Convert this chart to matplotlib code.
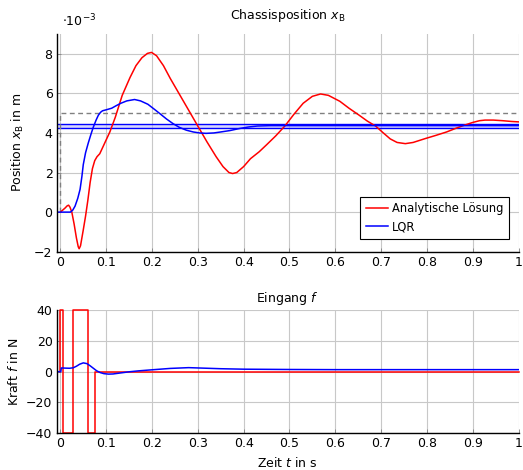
import matplotlib
matplotlib.use("Agg")
import matplotlib.pyplot as plt

plt.rcParams["font.family"] = ["DejaVu Sans"]
plt.rcParams["mathtext.fontset"] = "dejavusans"
plt.rcParams["font.size"] = 9

# Chassis position (units of 1e-3 m)
t_ana = [0.0, 0.005, 0.01, 0.015, 0.018, 0.021, 0.025, 0.03, 0.035, 0.039, 0.041,
         0.044, 0.05, 0.055, 0.06, 0.065, 0.07, 0.075, 0.08, 0.086, 0.095, 0.108,
         0.12, 0.135, 0.152, 0.165, 0.178, 0.19, 0.199, 0.21, 0.225, 0.24, 0.26,
         0.28, 0.3, 0.32, 0.34, 0.355, 0.368, 0.376, 0.385, 0.4, 0.415, 0.434,
         0.45, 0.47, 0.49, 0.51, 0.53, 0.55, 0.568, 0.585, 0.61, 0.63, 0.652,
         0.67, 0.688, 0.705, 0.72, 0.735, 0.753, 0.77, 0.797, 0.82, 0.843, 0.865,
         0.883, 0.9, 0.915, 0.927, 0.945, 0.965, 0.985, 1.0]
x_ana = [0.0, 0.1, 0.2, 0.32, 0.35, 0.25, 0.0, -0.6, -1.3, -1.75, -1.85,
         -1.7, -0.9, -0.2, 0.6, 1.5, 2.2, 2.6, 2.8, 2.95, 3.4, 4.05,
         4.8, 5.9, 6.8, 7.4, 7.8, 8.02, 8.07, 7.9, 7.4, 6.75, 5.95,
         5.15, 4.35, 3.55, 2.8, 2.3, 2.0, 1.95, 2.0, 2.3, 2.7, 3.05,
         3.4, 3.85, 4.35, 4.95, 5.5, 5.85, 5.97, 5.9, 5.6, 5.25, 4.9,
         4.6, 4.35, 4.0, 3.7, 3.52, 3.46, 3.52, 3.72, 3.88, 4.05, 4.25,
         4.4, 4.53, 4.62, 4.65, 4.65, 4.62, 4.58, 4.56]

t_lqr = [-0.008, 0.0, 0.01, 0.022, 0.027, 0.032, 0.038, 0.043, 0.047, 0.05,
         0.055, 0.061, 0.067, 0.072, 0.078, 0.083, 0.088, 0.092, 0.1, 0.112,
         0.122, 0.132, 0.145, 0.162, 0.175, 0.191, 0.205, 0.217, 0.232, 0.246,
         0.26, 0.275, 0.29, 0.304, 0.318, 0.335, 0.35, 0.37, 0.39, 0.41, 0.43,
         0.46, 0.5, 0.6, 0.7, 0.8, 0.9, 1.0]
x_lqr = [0.0, 0.0, 0.0, 0.0, 0.1, 0.3, 0.7, 1.15, 1.8, 2.4,
         3.0, 3.5, 3.95, 4.3, 4.65, 4.9, 5.05, 5.12, 5.17, 5.25,
         5.38, 5.5, 5.62, 5.69, 5.62, 5.45, 5.2, 4.98, 4.7, 4.47,
         4.28, 4.14, 4.05, 4.0, 3.98, 4.0, 4.05, 4.12, 4.22, 4.3, 4.35,
         4.37, 4.37, 4.37, 4.37, 4.37, 4.37, 4.37]

# Step reference and settling band
t_ref = [0.0, 0.0, 1.0]
x_ref = [0.0, 5.0, 5.0]
band_lo = 4.27
band_hi = 4.47

# Input force in N
t_f_ana = [0.0, 0.0, 0.005, 0.0276, 0.0595, 0.076, 1.0]
f_ana = [0.0, 40.0, -40.0, 40.0, -40.0, 0.0, 0.0]

t_f_lqr = [-0.008, 0.001, 0.002, 0.01, 0.02, 0.028, 0.035, 0.042, 0.05, 0.058,
           0.065, 0.072, 0.079, 0.087, 0.095, 0.105, 0.115, 0.13, 0.15, 0.17,
           0.2, 0.24, 0.28, 0.31, 0.35, 0.4, 0.5, 0.6, 0.7, 0.8, 0.9, 1.0]
f_lqr = [0.0, 0.0, 2.4, 2.3, 2.2, 2.5, 3.5, 4.8, 5.7, 5.2,
         3.8, 2.2, 0.6, -0.6, -1.3, -1.6, -1.5, -0.9, -0.1, 0.5,
         1.2, 2.1, 2.6, 2.3, 1.9, 1.6, 1.4, 1.3, 1.3, 1.3, 1.3, 1.3]

x_ticks = [0, 0.1, 0.2, 0.3, 0.4, 0.5, 0.6, 0.7, 0.8, 0.9, 1]
x_labels = ["0", "0.1", "0.2", "0.3", "0.4", "0.5", "0.6", "0.7", "0.8", "0.9", "1"]
y1_ticks = [-2, 0, 2, 4, 6, 8]
y2_ticks = [-40, -20, 0, 20, 40]

fig = plt.figure(figsize=(5.23, 4.70), dpi=100)
W, H = 523, 470
L, R = 56.7, 518.5
ax1 = fig.add_axes([L / W, 1 - 251.7 / H, (R - L) / W, (251.7 - 34) / H])
ax2 = fig.add_axes([L / W, 1 - 433.3 / H, (R - L) / W, (433.3 - 310) / H])


def style(ax):
    for s in ("top", "right"):
        ax.spines[s].set_visible(False)
    for s in ("left", "bottom"):
        ax.spines[s].set_linewidth(1.0)
        ax.spines[s].set_color("black")
    ax.grid(True, color="#c8c8c8", linewidth=0.8)
    ax.set_axisbelow(True)
    ax.tick_params(direction="in", length=3, width=0.6, color="#808080",
                   labelsize=9, pad=3)
    ax.set_xlim(-0.008, 1.0)
    ax.set_xticks(x_ticks)
    ax.set_xticklabels(x_labels)


style(ax1)
ax1.set_ylim(-2, 9)
ax1.set_yticks(y1_ticks)
ax1.set_yticklabels(["\u22122", "0", "2", "4", "6", "8"])
ax1.fill_between([-0.008, 1.0], [band_lo, band_lo], [band_hi, band_hi],
                 color="#b0b0ff", alpha=0.5, linewidth=0)
ax1.axhline(band_lo, color="blue", linewidth=1.0)
ax1.axhline(band_hi, color="blue", linewidth=1.0)
ax1.plot(t_ref, x_ref, color="#808080", linestyle=(0, (3.5, 2.5)), linewidth=1.0)
ax1.plot(t_ana, x_ana, color="red", linewidth=1.1, label="Analytische Lösung")
ax1.plot(t_lqr, x_lqr, color="blue", linewidth=1.1, label="LQR")
ax1.set_title("Chassisposition $x_\\mathrm{B}$", fontsize=9, pad=11)
ax1.set_ylabel("Position $x_\\mathrm{B}$ in m", fontsize=9, labelpad=6)
ax1.text(0.012, 1.02, "$\\cdot 10^{-3}$", transform=ax1.transAxes, fontsize=9,
         ha="left", va="bottom")
leg = ax1.legend(loc="lower right", bbox_to_anchor=(0.98, 0.057), fontsize=8.3,
                 frameon=True, fancybox=False, framealpha=1.0, edgecolor="black",
                 handlelength=1.9, borderpad=0.5, labelspacing=0.45,
                 handletextpad=0.4, borderaxespad=0)
leg.get_frame().set_linewidth(0.8)

style(ax2)
ax2.set_ylim(-40, 40)
ax2.set_yticks(y2_ticks)
ax2.set_yticklabels(["\u221240", "\u221220", "0", "20", "40"])
ax2.plot(t_f_ana, f_ana, color="red", linewidth=1.1, drawstyle="steps-post",
         clip_on=False)
ax2.plot(t_f_lqr, f_lqr, color="blue", linewidth=1.1)
ax2.set_title("Eingang $f$", fontsize=9, pad=6)
ax2.set_ylabel("Kraft $f$ in N", fontsize=9, labelpad=4)
ax2.set_xlabel("Zeit $t$ in s", fontsize=9, labelpad=4)

fig.savefig("out.png", dpi=100)
